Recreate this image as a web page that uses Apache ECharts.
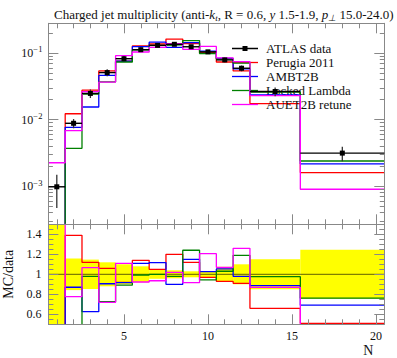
<!DOCTYPE html>
<html><head><meta charset="utf-8">
<script src="https://cdn.jsdelivr.net/npm/echarts@6/dist/echarts.min.js"></script>
<style>html,body{margin:0;padding:0;background:#fff}#c{width:397px;height:358px}</style>
</head><body><div id="c"></div>
<script>
// ---- data ----
const binEdges = [0.5,1.5,2.5,3.5,4.5,5.5,6.5,7.5,8.5,9.5,10.5,11.5,12.5,15.5,20.5];
const binCenters = [1,2,3,4,5,6,7,8,9,10,11,12,14,18];
const atlasData = [0.00098,0.0088,0.0247,0.0508,0.082,0.112,0.130,0.135,0.124,0.104,0.0787,0.059,0.0264,0.00314];
const atlasRelErr = [0.52,0.158,0.147,0.12,0.10,0.08,0.045,0.04,0.03,0.03,0.075,0.10,0.15,0.245];
const perugia2011 = [0.00015,0.01223,0.02766,0.05385,0.07544,0.1277,0.1365,0.162,0.1389,0.1009,0.0732,0.0537,0.01742,0.0016];
const ambt2b = [0.00012,0.00766,0.01546,0.0460,0.0751,0.1243,0.1452,0.1215,0.1426,0.1067,0.0829,0.0578,0.02342,0.00217];
const lockedLambda = [0.0001,0.0037,0.0242,0.0369,0.0732,0.1112,0.130,0.1323,0.1538,0.0983,0.0811,0.0702,0.02577,0.00239];
const auet2bRetune = [0.00225,0.00683,0.02633,0.03658,0.0910,0.1034,0.1216,0.1377,0.1136,0.1254,0.0842,0.0743,0.02297,0.0009];

const xMajorTicks = [5,10,15,20];
const xMinorTicks = [1,2,3,4,6,7,8,9,11,12,13,14,16,17,18,19];
const logMajorTicks = [1e-3,1e-2,1e-1];
const logMinorTicks = [3e-4,4e-4,5e-4,6e-4,7e-4,8e-4,9e-4,2e-3,3e-3,4e-3,5e-3,6e-3,7e-3,8e-3,9e-3,2e-2,3e-2,4e-2,5e-2,6e-2,7e-2,8e-2,9e-2,2e-1];
const ratioMajorTicks = [0.6,0.8,1,1.2,1.4];
const ratioMinorTicks = [0.55,0.65,0.7,0.75,0.85,0.9,0.95,1.05,1.1,1.15,1.25,1.3,1.35,1.45];

// ---- styling ----
const FONT = 'Liberation Serif';
const frameColor = '#888';
const mcSeries = [
  {name:'Perugia 2011', values: perugia2011, color:'#ff0000'},
  {name:'AMBT2B', values: ambt2b, color:'#0000ff'},
  {name:'Locked Lambda', values: lockedLambda, color:'#008000'},
  {name:'AUET2B retune', values: auet2bRetune, color:'#ff00ff'}
];

function stepPoints(values){
  const pts=[];
  values.forEach((v,i)=>{pts.push([binEdges[i],v]);pts.push([binEdges[i+1],v]);});
  return pts;
}

function mkAxis(gridIndex, position, type, min, max, ticks, tickLen, showLine, extra){
  return Object.assign({
    type: type, gridIndex: gridIndex, position: position, min: min, max: max,
    axisLine: {show: showLine, onZero:false, lineStyle:{color:frameColor,width:1}},
    axisTick: {show:true, inside:true, length:tickLen, customValues: ticks, lineStyle:{color:frameColor,width:1}},
    axisLabel: {show:false},
    splitLine: {show:false}, minorTick:{show:false}, minorSplitLine:{show:false},
    z: 10, silent: true
  }, extra||{});
}
const LOGMIN = 2.68e-4, LOGMAX = 0.279;
const labelStyle = {fontFamily: FONT, fontSize: 12, color:'#111'};

const xAxes = [
  mkAxis(0,'bottom','value',0.5,20.5,xMajorTicks,10,true),
  mkAxis(0,'bottom','value',0.5,20.5,xMinorTicks,5,false),
  mkAxis(0,'top','value',0.5,20.5,xMajorTicks,10,true),
  mkAxis(0,'top','value',0.5,20.5,xMinorTicks,5,false),
  mkAxis(1,'bottom','value',0.5,20.5,xMajorTicks,10,true,{
    axisLabel: Object.assign({show:true, customValues:xMajorTicks, margin:6}, labelStyle),
    name:'N', nameLocation:'end', nameGap:-11,
    nameTextStyle:{fontFamily:FONT, fontSize:14, color:'#111', align:'right', verticalAlign:'top', padding:[19,0,0,0]}
  }),
  mkAxis(1,'bottom','value',0.5,20.5,xMinorTicks,5,false),
  mkAxis(1,'top','value',0.5,20.5,xMajorTicks,10,true),
  mkAxis(1,'top','value',0.5,20.5,xMinorTicks,5,false)
];
const yAxes = [
  mkAxis(0,'left','log',LOGMIN,LOGMAX,logMajorTicks,10,true,{
    logBase:10,
    axisLabel:{show:true, customValues:logMajorTicks, margin:6,
      formatter: v => '{b|10}{s|−' + (-Math.round(Math.log10(v))) + '}',
      rich:{b:{fontFamily:FONT,fontSize:12,color:'#111'}, s:{fontFamily:FONT,fontSize:8.5,color:'#111',padding:[0,0,7,0]}}}
  }),
  mkAxis(0,'left','log',LOGMIN,LOGMAX,logMinorTicks,4.5,false,{logBase:10}),
  mkAxis(0,'right','log',LOGMIN,LOGMAX,logMajorTicks,10,true,{logBase:10}),
  mkAxis(0,'right','log',LOGMIN,LOGMAX,logMinorTicks,4.5,false,{logBase:10}),
  mkAxis(1,'left','value',0.5,1.5,ratioMajorTicks,10,true,{
    axisLabel: Object.assign({show:true, customValues:ratioMajorTicks, margin:7, formatter: v => String(Math.round(v*10)/10)}, labelStyle),
    name:'MC/data', nameLocation:'middle', nameRotate:90, nameGap:32,
    nameTextStyle:{fontFamily:FONT, fontSize:14, color:'#111'}
  }),
  mkAxis(1,'left','value',0.5,1.5,ratioMinorTicks,5,false),
  mkAxis(1,'right','value',0.5,1.5,ratioMajorTicks,10,true),
  mkAxis(1,'right','value',0.5,1.5,ratioMinorTicks,5,false)
];

const series = [];
// legend entry for the data
series.push({type:'line', name:'ATLAS data', xAxisIndex:0, yAxisIndex:0, data:[], symbol:'rect', symbolSize:5,
  color:'#000', lineStyle:{color:'#000', width:1.3}, itemStyle:{color:'#000'}, silent:true});

// ratio band (data uncertainty)
const bandRows = atlasRelErr.map((e,i)=>[binEdges[i], binEdges[i+1], 1-e, 1+e]);
series.push({type:'custom', xAxisIndex:4, yAxisIndex:4, z:1, silent:true,
  data: bandRows, encode:{x:[0,1], y:[2,3]},
  renderItem:(params, api)=>{
    const p1 = api.coord([api.value(0), api.value(3)]);
    const p2 = api.coord([api.value(1), api.value(2)]);
    const cs = params.coordSys;
    const r = echarts.graphic.clipRectByRect({x:p1[0], y:p1[1], width:p2[0]-p1[0], height:p2[1]-p1[1]},
      {x:cs.x, y:cs.y, width:cs.width, height:cs.height});
    if(!r) return;
    return {type:'rect', shape:r, style:{fill:'#ffff00'}};
  }
});
// data / data reference line in the ratio panel
series.push({type:'line', xAxisIndex:4, yAxisIndex:4, z:2, silent:true, symbol:'none',
  data: stepPoints(atlasData.map(v=>v/v)), lineStyle:{color:'#000', width:1.3, opacity:0.5}});

mcSeries.forEach((m,k)=>{
  series.push({type:'line', name:m.name, xAxisIndex:0, yAxisIndex:0, data: stepPoints(m.values),
    symbol:'none', clip:true, z:3+k, color:m.color, lineStyle:{color:m.color, width:1.3}, silent:true});
  series.push({type:'line', name:m.name, xAxisIndex:4, yAxisIndex:4, data: stepPoints(m.values.map((v,i)=>v/atlasData[i])),
    symbol:'none', clip:true, z:3+k, color:m.color, lineStyle:{color:m.color, width:1.3}, silent:true});
});

// data points with error bars
const dataRows = atlasData.map((v,i)=>[binEdges[i], binEdges[i+1], binCenters[i], v, atlasRelErr[i]]);
series.push({type:'custom', xAxisIndex:0, yAxisIndex:0, z:20, silent:true,
  data: dataRows, encode:{x:[0,1,2], y:[3]},
  renderItem:(params, api)=>{
    const lo=api.value(0), hi=api.value(1), c=api.value(2), v=api.value(3), e=api.value(4);
    const pL=api.coord([lo,v]), pR=api.coord([hi,v]), pT=api.coord([c,v*(1+e)]), pB=api.coord([c,v*(1-e)]), pC=api.coord([c,v]);
    return {type:'group', children:[
      {type:'line', shape:{x1:pL[0],y1:pL[1],x2:pR[0],y2:pR[1]}, style:{stroke:'#000', lineWidth:1.4}},
      {type:'line', shape:{x1:pC[0],y1:pT[1],x2:pC[0],y2:pB[1]}, style:{stroke:'#333', lineWidth:1.3}},
      {type:'rect', shape:{x:pC[0]-2.5,y:pC[1]-2.5,width:5,height:5}, style:{fill:'#000'}}
    ]};
  }
});

const lineIcon = 'path://M0,6.35H26V7.65H0Z';
const dataIcon = 'path://M0,6.35H10.5V4.5H15.5V6.35H26V7.65H15.5V9.5H10.5V7.65H0Z';

const chart = echarts.init(document.getElementById('c'), null, {renderer:'svg', width:397, height:358});
chart.setOption({
  animation:false,
  backgroundColor:'#fff',
  title:{left:49, top:2, text:'Charged jet multiplicity (anti-{i|k}{sub|t}, R = 0.6, {i|y} 1.5-1.9, {i|p}{sub|⊥} 15.0-24.0)',
    textStyle:{fontFamily:FONT, fontSize:13, fontWeight:'normal', color:'#111',
      rich:{i:{fontFamily:FONT,fontSize:13,fontStyle:'italic',color:'#111'}, sub:{fontFamily:FONT,fontSize:9,fontStyle:'italic',color:'#111',padding:[6,0,0,0]}}}},
  legend:{orient:'vertical', left:227, top:37, itemWidth:26, itemHeight:14, itemGap:1, selectedMode:false, symbolKeepAspect:true,
    data:[
      {name:'ATLAS data', icon:dataIcon, itemStyle:{color:'#000'}},
      {name:'Perugia 2011', icon:lineIcon},
      {name:'AMBT2B', icon:lineIcon},
      {name:'Locked Lambda', icon:lineIcon},
      {name:'AUET2B retune', icon:lineIcon}
    ],
    textStyle:{fontFamily:FONT, fontSize:13, color:'#111', padding:[0,0,0,3]}},
  grid:[
    {left:48.4, right:12.7, top:23.3, height:201, outerBoundsMode:'none'},
    {left:48.4, right:12.7, top:224.3, height:100, outerBoundsMode:'none'}
  ],
  xAxis: xAxes, yAxis: yAxes, series: series
});
</script></body></html>
